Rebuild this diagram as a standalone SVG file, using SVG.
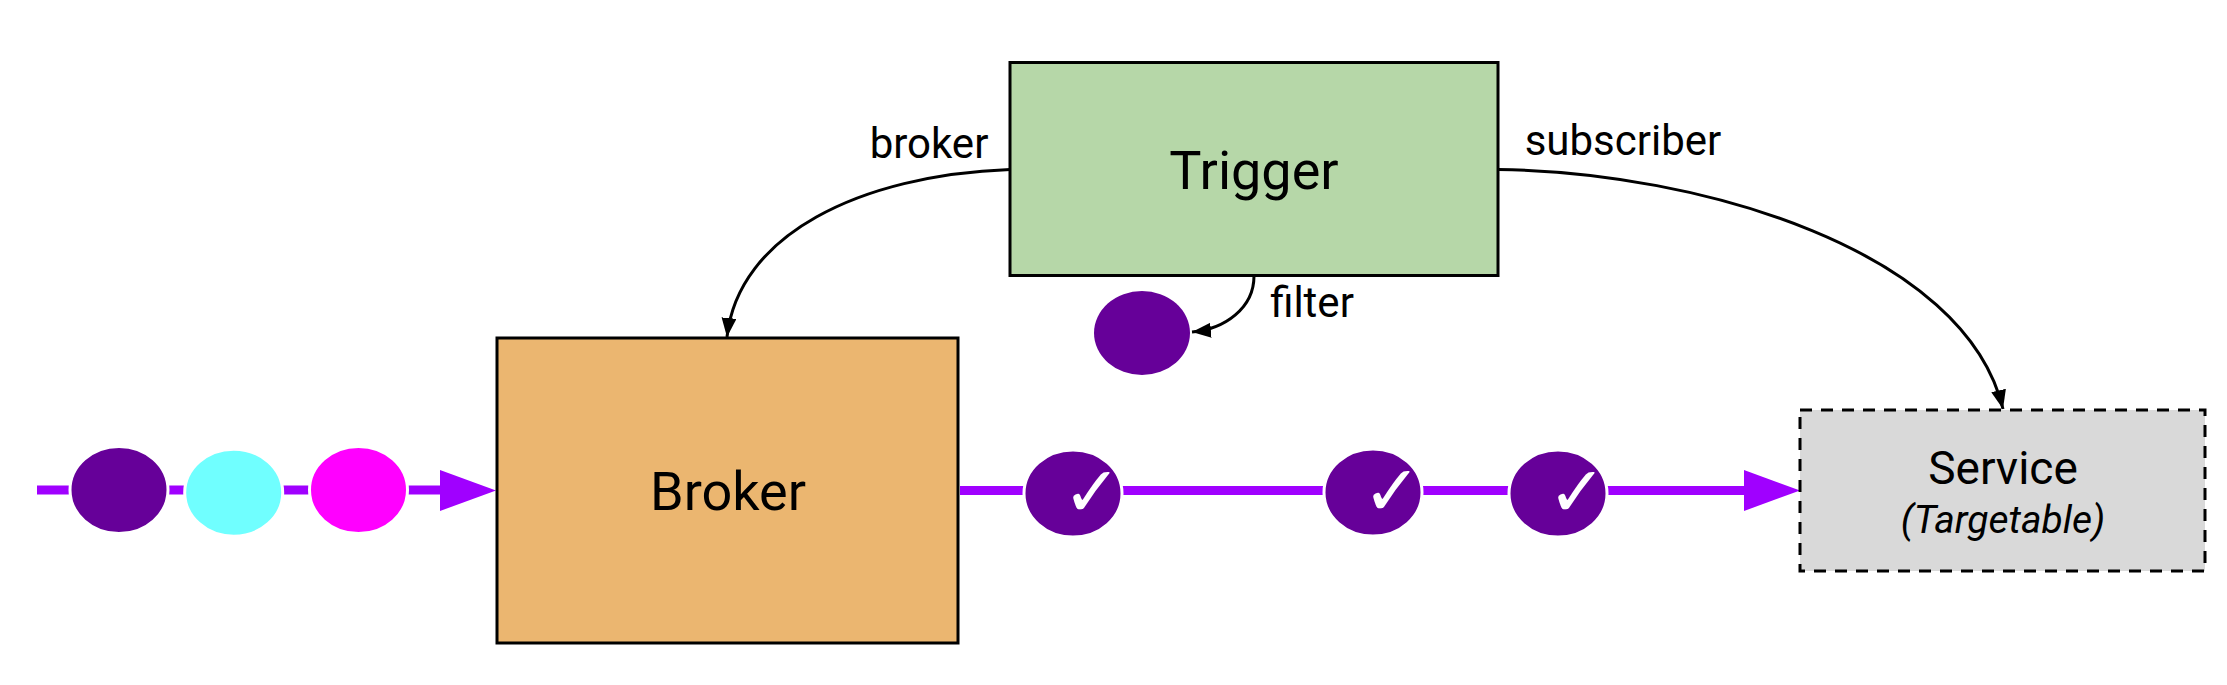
<svg xmlns="http://www.w3.org/2000/svg" width="2227" height="685" viewBox="0 0 2227 685">
<style>
text{font-family:Roboto,"Liberation Sans",sans-serif;fill:#000;text-anchor:middle}
.box{stroke:#000;stroke-width:3}
.title{font-size:54px}
.label{font-size:42px}
.edge{fill:none;stroke:#000;stroke-width:3}
.flow{fill:none;stroke:#a000ff;stroke-width:9}
.head{fill:#a000ff}
.ev{stroke:#fff;stroke-width:3}
.purple{fill:#660099}
.check{font-family:"DejaVu Sans",sans-serif;font-size:70px;fill:#fff}
</style>
<defs>
<marker id="ah" markerUnits="userSpaceOnUse" markerWidth="20" markerHeight="16" refX="19" refY="7.500" orient="auto"><path d="M0 0L19 7.500L0 15z" fill="#000"/></marker>
</defs>
<rect width="2227" height="685" fill="#fff"/>
<g id="connectors">
<path class="edge" d="M1010 169.500C860 175 738 235 727 337" marker-end="url(#ah)"/>
<path class="edge" d="M1498 169.500C1700 172 1965 250 2003 409" marker-end="url(#ah)"/>
<path class="edge" d="M1254 276C1254 308 1225 329 1192 332" marker-end="url(#ah)"/>
<path class="flow" d="M37 490H445"/>
<path class="head" d="M440 470L496 490.500L440 511z"/>
<path class="flow" d="M960 490.500H1750"/>
<path class="head" d="M1744 470L1800 490.500L1744 511z"/>
</g>
<g id="trigger"><rect class="box" x="1010" y="62.500" width="488" height="213" fill="#b6d7a8"/><text class="title" x="1254" y="189">Trigger</text></g>
<g id="broker"><rect class="box" x="497" y="338" width="461" height="305" fill="#ebb670"/><text class="title" x="728" y="510">Broker</text></g>
<g id="service"><rect x="1800" y="410" width="405" height="161" fill="#d9d9d9" stroke="#000" stroke-width="3" stroke-dasharray="12 9"/><text x="2003" y="484" font-size="46">Service</text><text x="2003" y="533" font-size="39" font-style="italic">(Targetable)</text></g>
<g id="label-broker"><text class="label" x="929" y="158">broker</text></g>
<g id="label-subscriber"><text class="label" x="1623" y="155">subscriber</text></g>
<g id="label-filter"><text class="label" x="1312" y="317">filter</text></g>
<g id="filter-event"><ellipse class="purple" cx="1142" cy="333" rx="48" ry="42"/></g>
<g id="event-in-1"><ellipse class="ev purple" cx="119" cy="490" rx="49" ry="43.500"/></g>
<g id="event-in-2"><ellipse class="ev" fill="#70ffff" cx="233.700" cy="492.700" rx="49" ry="43.500"/></g>
<g id="event-in-3"><ellipse class="ev" fill="#ff00ff" cx="358.500" cy="490" rx="49" ry="43.500"/></g>
<g id="event-out-1"><ellipse class="ev purple" cx="1073" cy="493.500" rx="49" ry="43.500"/><text class="check" x="1092" y="516">✓</text></g>
<g id="event-out-2"><ellipse class="ev purple" cx="1373" cy="492.500" rx="49" ry="43.500"/><text class="check" x="1392" y="515">✓</text></g>
<g id="event-out-3"><ellipse class="ev purple" cx="1558" cy="493.500" rx="49" ry="43.500"/><text class="check" x="1577" y="516">✓</text></g>
</svg>
